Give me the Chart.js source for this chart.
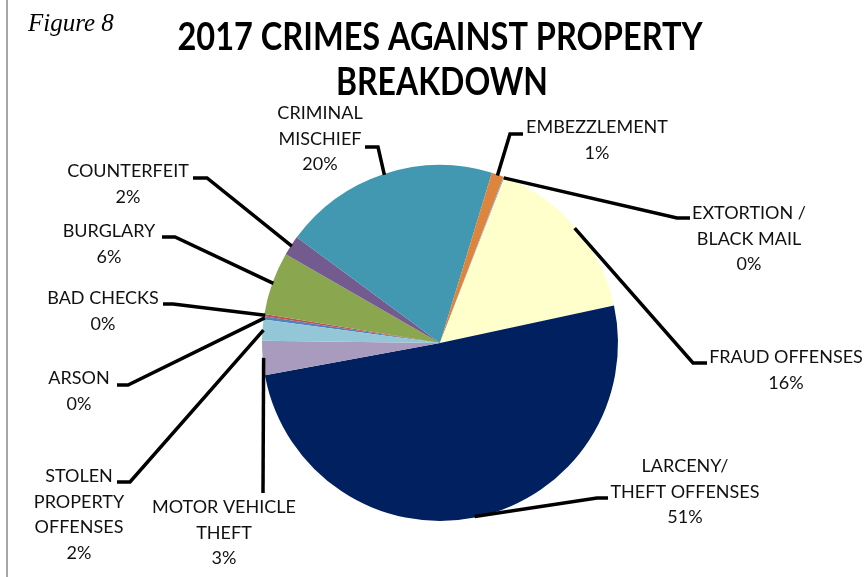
<!DOCTYPE html>
<html>
<head>
<meta charset="utf-8">
<title>2017 Crimes Against Property Breakdown</title>
<script src="https://cdn.jsdelivr.net/npm/chart.js"></script>
<style>
  html, body { margin: 0; padding: 0; background: #ffffff; }
  #wrap { position: relative; width: 864px; height: 577px; }
</style>
</head>
<body>
<div id="wrap"><canvas id="chart" width="864" height="577"></canvas></div>
<script>
// Offence categories, in the order the slices are drawn (clockwise)
const categories = [
  ['ARSON'],
  ['BAD CHECKS'],
  ['BURGLARY'],
  ['COUNTERFEIT'],
  ['CRIMINAL', 'MISCHIEF'],
  ['EMBEZZLEMENT'],
  ['EXTORTION /', 'BLACK MAIL'],
  ['FRAUD OFFENSES'],
  ['LARCENY/', 'THEFT OFFENSES'],
  ['MOTOR VEHICLE', 'THEFT'],
  ['STOLEN', 'PROPERTY', 'OFFENSES']
];

// Share of all property crimes, in percent
const shares = [0.3, 0.2, 5.7, 1.8, 19.6, 1.1, 0.1, 15.7, 50.5, 3.1, 1.9];

const sliceColors = [
  '#4f81bd', '#c0504d', '#8aa64f', '#735a8f', '#4298b0', '#dd853c',
  '#95abd2', '#ffffcc', '#002060', '#a99bbd', '#93c6d6'
];

const titleLines = ['2017 CRIMES AGAINST PROPERTY', 'BREAKDOWN'];
const figureCaption = 'Figure 8';

// Where each callout sits: text centre x, first baseline y, and the leader's bend/end points
const calloutLayout = [
  { x: 79,  y: 384, bend: [128, 385], end: [117, 385] },
  { x: 103, y: 304, bend: [173, 304], end: [163, 304] },
  { x: 109, y: 237, bend: [175, 237], end: [162, 237] },
  { x: 128, y: 177, bend: [207, 178], end: [193, 178] },
  { x: 320, y: 119, bend: [378, 147], end: [365, 147] },
  { x: 597, y: 133, bend: [510, 134], end: [523, 134] },
  { x: 749, y: 219, bend: [677, 218], end: [690, 218] },
  { x: 786, y: 363, bend: [693, 363], end: [707, 363] },
  { x: 685, y: 472, bend: [597, 498], end: [608, 498] },
  { x: 224, y: 513, bend: [263, 493], end: [263, 493] },
  { x: 79,  y: 482, bend: [130, 482], end: [117, 482] }
];

const total = shares.reduce((a, b) => a + b, 0);
const pctText = v => Math.round(Math.round(v / total * 1000) / 10) + '%';

// Page background, left rule, caption and title
const framePlugin = {
  id: 'frame',
  beforeDraw(chart) {
    const ctx = chart.ctx;
    ctx.save();
    ctx.fillStyle = '#ffffff';
    ctx.fillRect(0, 0, chart.width, chart.height);
    ctx.fillStyle = '#a6a6a6';
    ctx.fillRect(6, 0, 2, chart.height);
    ctx.restore();
  },
  afterDraw(chart) {
    const ctx = chart.ctx;
    ctx.save();
    ctx.fillStyle = '#000000';
    ctx.textBaseline = 'alphabetic';
    ctx.textAlign = 'left';
    ctx.font = 'italic 25px "Liberation Serif"';
    ctx.fillText(figureCaption, 28, 31, 92);
    ctx.textAlign = 'center';
    ctx.font = 'bold 39px Lato';
    ctx.fillText(titleLines[0], 440, 50, 525);
    ctx.fillText(titleLines[1], 442, 95, 212);
    ctx.restore();
  }
};

// Callout text with leader lines drawn from each slice's outer edge
const calloutPlugin = {
  id: 'callouts',
  afterDatasetsDraw(chart) {
    const ctx = chart.ctx;
    const arcs = chart.getDatasetMeta(0).data;
    ctx.save();
    arcs.forEach((arc, i) => {
      const p = arc.getProps(['x', 'y', 'startAngle', 'endAngle', 'outerRadius'], true);
      const mid = (p.startAngle + p.endAngle) / 2;
      const r = p.outerRadius - 1;
      const sx = p.x + Math.cos(mid) * r;
      const sy = p.y + Math.sin(mid) * r;
      const lay = calloutLayout[i];
      ctx.strokeStyle = '#000000';
      ctx.lineWidth = 3.5;
      ctx.lineJoin = 'miter';
      ctx.lineCap = 'butt';
      ctx.beginPath();
      ctx.moveTo(sx, sy);
      ctx.lineTo(lay.bend[0], lay.bend[1]);
      ctx.lineTo(lay.end[0], lay.end[1]);
      ctx.stroke();

      const lines = categories[i].concat([pctText(shares[i])]);
      ctx.fillStyle = '#111111';
      ctx.font = '18px Lato';
      ctx.textAlign = 'center';
      ctx.textBaseline = 'alphabetic';
      lines.forEach((t, k) => ctx.fillText(t, lay.x, lay.y + k * 25.5));
    });
    ctx.restore();
  }
};

new Chart(document.getElementById('chart'), {
  type: 'pie',
  data: {
    labels: categories.map(c => c.join(' ')),
    datasets: [{
      data: shares,
      backgroundColor: sliceColors,
      borderWidth: 0
    }]
  },
  options: {
    responsive: false,
    animation: false,
    rotation: 277.6,
    layout: { padding: { top: 165, bottom: 56, left: 262, right: 246 } },
    plugins: {
      legend: { display: false },
      tooltip: { enabled: false },
      title: { display: false }
    }
  },
  plugins: [framePlugin, calloutPlugin]
});
</script>
</body>
</html>
